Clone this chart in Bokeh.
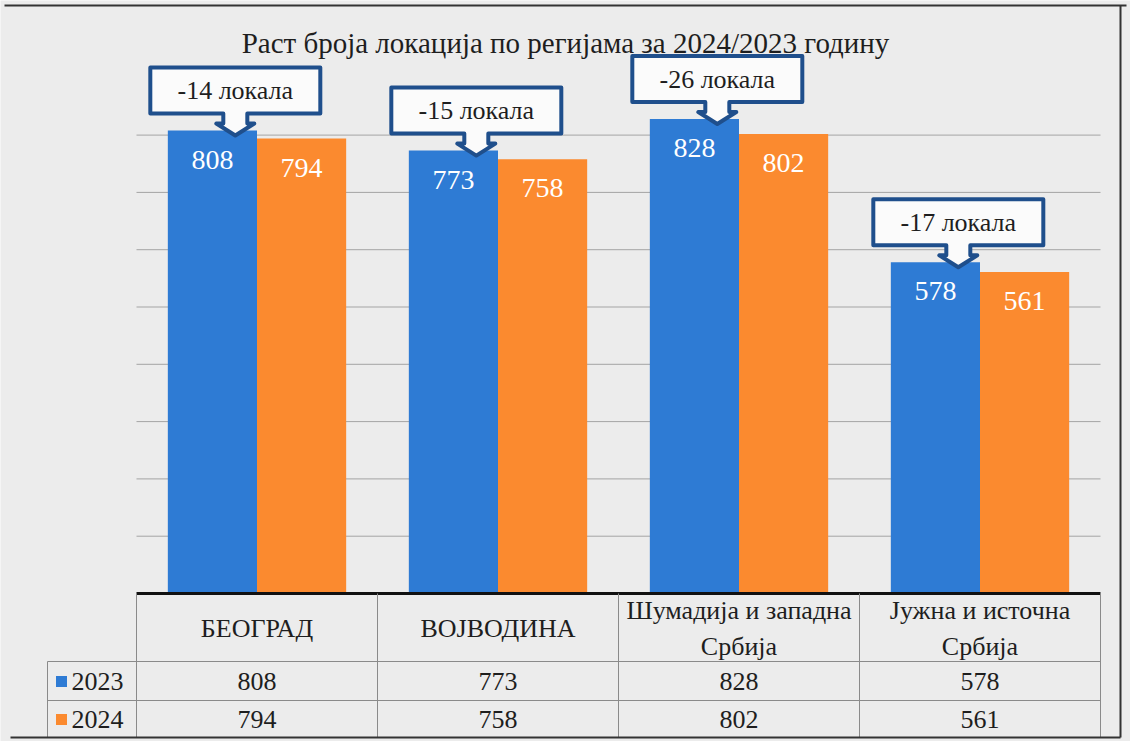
from bokeh.plotting import figure
from bokeh.models import Range1d
from bokeh.core.properties import value
from bokeh.embed import file_html
from bokeh.resources import INLINE

# ---------------- data ----------------
title = "Раст броја локација по регијама за 2024/2023 годину"
regions = ["БЕОГРАД", "ВОЈВОДИНА", "Шумадија и западна\nСрбија", "Јужна и источна\nСрбија"]
years = ["2023", "2024"]
v2023 = [808, 773, 828, 578]
v2024 = [794, 758, 802, 561]
grid_values = [100, 200, 300, 400, 500, 600, 700, 800]

# ---------------- style / layout ----------------
W, H = 1130, 741
BG = "#ececec"
BLUE = "#2e7bd4"
ORANGE = "#fb8a2f"
CALLOUT = "#1f4f8c"
FONT = value("'Liberation Serif', 'Times New Roman', serif")
TXT = "#1e1e1e"

X0 = 136          # px: left edge of plot area
CAT_PX = 241      # px: width of one category
Y0 = 593          # px: baseline
PXU = 0.573       # px per value unit


def vx(px):
    return (px - X0) / CAT_PX


def vy(px):
    return (Y0 - px) / PXU


def dx(px):
    return px / CAT_PX


def dy(px):
    return px / PXU


p = figure(width=W, height=H,
           x_range=Range1d(vx(0), vx(W)), y_range=Range1d(vy(H), vy(0)),
           x_axis_type=None, y_axis_type=None,
           toolbar_location=None, output_backend="svg", min_border=0,
           background_fill_color=BG, border_fill_color=BG,
           outline_line_color=None)

n = len(regions)
BAR_W = 0.37
xb = [i + 0.5 - BAR_W / 2 for i in range(n)]
xo = [i + 0.5 + BAR_W / 2 for i in range(n)]

# grid lines
p.segment(x0=[0] * len(grid_values), x1=[n] * len(grid_values),
          y0=grid_values, y1=grid_values, line_color="#a4a4a4", line_width=1)

# bars
p.vbar(x=xb, top=v2023, bottom=0, width=BAR_W, fill_color=BLUE, line_color=None)
p.vbar(x=xo, top=v2024, bottom=0, width=BAR_W, fill_color=ORANGE, line_color=None)

# value labels in bars
p.text(x=xb, y=[v - dy(29) for v in v2023], text=[str(v) for v in v2023],
       text_color="white", text_align="center", text_baseline="middle",
       text_font=FONT, text_font_size="28px")
p.text(x=xo, y=[v - dy(29) for v in v2024], text=[str(v) for v in v2024],
       text_color="white", text_align="center", text_baseline="middle",
       text_font=FONT, text_font_size="28px")

# callouts
cxs, cys, tx, ty, tt = [], [], [], [], []
BOX_W, BOX_H = 170, 46
STEM_HW, HEAD_HW, STEM_L, HEAD_L = 12, 19, 10, 12
for i in range(n):
    ax = xb[i] + 0.095
    tip = v2023[i] - dy(5)
    sb = tip + dy(HEAD_L)          # stem bottom
    bb = sb + dy(STEM_L)           # box bottom
    bt = bb + dy(BOX_H)            # box top
    l, r = ax - dx(BOX_W / 2), ax + dx(BOX_W / 2)
    xs = [l, r, r, ax + dx(STEM_HW), ax + dx(STEM_HW), ax + dx(HEAD_HW), ax,
          ax - dx(HEAD_HW), ax - dx(STEM_HW), ax - dx(STEM_HW), l]
    ys = [bt, bt, bb, bb, sb, sb, tip, sb, sb, bb, bb]
    cxs.append(xs)
    cys.append(ys)
    tx.append(ax)
    ty.append((bb + bt) / 2)
    tt.append(f"{v2024[i] - v2023[i]} локала")
p.patches(xs=cxs, ys=cys, fill_color="#fbfbfb", line_color=CALLOUT,
          line_width=4, line_join="round")
p.text(x=tx, y=ty, text=tt, text_color=TXT, text_align="center",
       text_baseline="middle", text_font=FONT, text_font_size="26px")

# title
p.text(x=[vx(565)], y=[vy(42)], text=[title], text_color=TXT,
       text_align="center", text_baseline="middle", text_font=FONT,
       text_font_size="29px")

# ---------------- data table ----------------
tab_right = n
p.segment(x0=[0], x1=[tab_right], y0=[0], y1=[0], line_color="#111111", line_width=3)
p.segment(x0=[vx(47), vx(47)], x1=[tab_right, tab_right],
          y0=[vy(661), vy(700)], y1=[vy(661), vy(700)],
          line_color="#8a8a8a", line_width=1)
p.segment(x0=list(range(n + 1)), x1=list(range(n + 1)),
          y0=[0] * (n + 1), y1=[vy(737)] * (n + 1),
          line_color="#8a8a8a", line_width=1)
p.segment(x0=[vx(47)], x1=[vx(47)], y0=[vy(661)], y1=[vy(737)],
          line_color="#8a8a8a", line_width=1)

cx = [i + 0.5 for i in range(n)]
p.text(x=cx, y=[vy(628)] * n, text=regions, text_color=TXT, text_align="center",
       text_baseline="middle", text_font=FONT, text_font_size="26px",
       text_line_height=1.25)
p.text(x=cx, y=[vy(681)] * n, text=[str(v) for v in v2023], text_color=TXT,
       text_align="center", text_baseline="middle", text_font=FONT,
       text_font_size="26px")
p.text(x=cx, y=[vy(719)] * n, text=[str(v) for v in v2024], text_color=TXT,
       text_align="center", text_baseline="middle", text_font=FONT,
       text_font_size="26px")

# legend keys
p.rect(x=[vx(61)] * 2, y=[vy(681), vy(719)], width=dx(11), height=dy(11),
       fill_color=[BLUE, ORANGE], line_color=None)
p.text(x=[vx(71)] * 2, y=[vy(681), vy(719)], text=years, text_color=TXT,
       text_align="left", text_baseline="middle", text_font=FONT,
       text_font_size="26px")

# outer frame (scan border)
p.segment(x0=[vx(4), vx(1120), vx(10)], x1=[vx(1126), vx(1120), vx(1120)],
          y0=[vy(5), vy(5), vy(737)], y1=[vy(5), vy(737), vy(737)],
          line_color="#333333", line_width=2)

open("out.html", "w").write(file_html(p, INLINE))
